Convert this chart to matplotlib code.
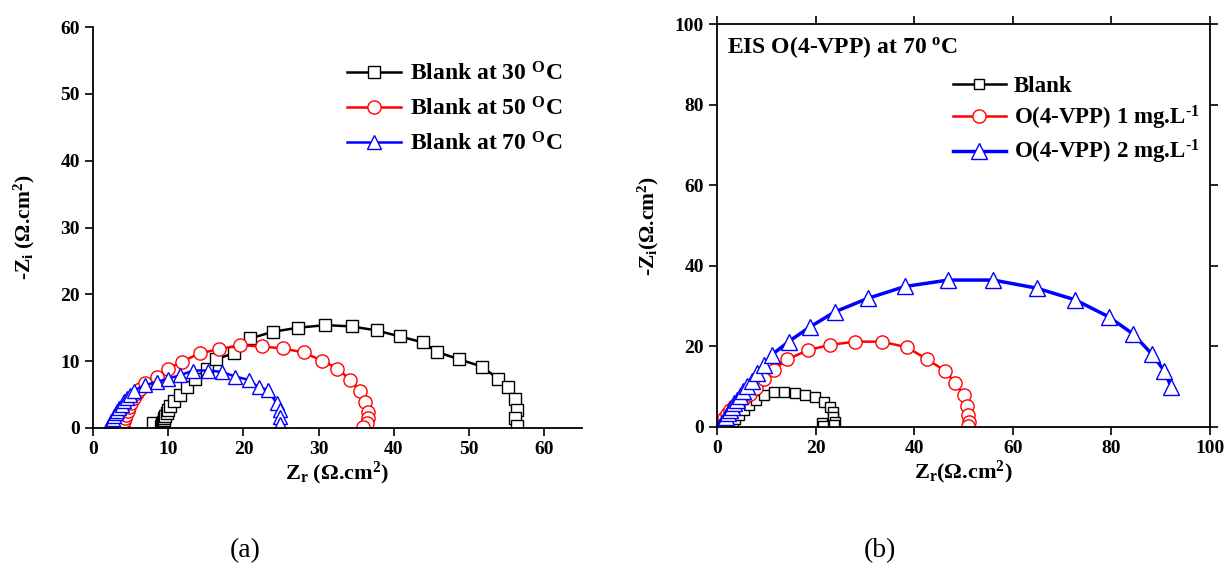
import matplotlib
matplotlib.use("Agg")
import matplotlib.pyplot as plt

plt.rcParams['font.family'] = ['Liberation Serif', 'DejaVu Serif']
plt.rcParams['font.weight'] = 'bold'
plt.rcParams['mathtext.fontset'] = 'custom'
plt.rcParams['mathtext.rm'] = 'Liberation Serif:bold'
plt.rcParams['mathtext.bf'] = 'Liberation Serif:bold'
plt.rcParams['mathtext.it'] = 'Liberation Serif:bold'

# ---- Panel (a) data ----
b30_zr = [8.0, 9.0, 9.2, 9.3, 9.4, 9.5, 9.6, 9.8, 10.0, 10.3, 10.8, 11.5, 12.5, 13.6, 15.1,
          16.4, 18.7, 20.9, 23.9, 27.2, 30.9, 34.4, 37.7, 40.8, 43.9, 45.7, 48.6, 51.7,
          53.9, 55.2, 56.1, 56.4, 56.1, 56.3]
b30_zi = [0.7, 0.3, 0.6, 0.9, 1.2, 1.5, 1.8, 2.2, 2.7, 3.3, 4.1, 5.0, 6.1, 7.3, 8.9,
          10.3, 11.2, 13.4, 14.4, 15.0, 15.4, 15.2, 14.6, 13.7, 12.8, 11.4, 10.3, 9.2,
          7.3, 6.1, 4.4, 2.7, 1.45, 0.3]

b50_zr = [3.9, 4.0, 4.1, 4.2, 4.4, 4.6, 4.8, 5.1, 5.4, 5.8, 6.3, 6.9, 8.5, 10.0, 11.8,
          14.2, 16.8, 19.5, 22.4, 25.3, 28.0, 30.4, 32.5, 34.2, 35.5, 36.2, 36.5, 36.6,
          36.4, 35.9]
b50_zi = [0.1, 0.5, 1.0, 1.5, 2.0, 2.6, 3.2, 3.8, 4.5, 5.2, 5.9, 6.7, 7.7, 8.9, 9.9,
          11.2, 11.8, 12.4, 12.2, 11.9, 11.3, 10.1, 8.9, 7.2, 5.6, 3.9, 2.4, 1.45,
          0.7, 0.2]

b70_zr = [2.0, 2.2, 2.4, 2.6, 2.8, 3.0, 3.2, 3.5, 3.8, 4.1, 4.5, 4.9, 5.4, 6.9, 8.5,
          10.0, 11.6, 13.3, 15.3, 17.1, 18.9, 20.7, 22.0, 23.3, 24.4, 24.8, 24.9, 24.9]
b70_zi = [0.2, 0.6, 1.0, 1.4, 1.8, 2.2, 2.6, 3.0, 3.5, 4.0, 4.5, 5.0, 5.6, 6.4, 6.9,
          7.4, 7.9, 8.6, 8.6, 8.4, 7.7, 7.2, 6.1, 5.7, 3.7, 2.7, 1.6, 0.6]

labels_a = [r'Blank at 30 $^{\mathrm{O}}$C', r'Blank at 50 $^{\mathrm{O}}$C',
            r'Blank at 70 $^{\mathrm{O}}$C']

# ---- Panel (b) data ----
blank_zr = [2.8, 3.2, 3.7, 4.4, 5.4, 6.4, 7.8, 9.5, 11.5, 13.5, 15.8, 17.8, 19.9, 21.6,
            22.9, 23.6, 23.6, 23.9, 23.8, 21.2, 21.4]
blank_zi = [0.5, 1.2, 2.1, 3.0, 4.2, 5.5, 6.7, 8.0, 8.7, 8.7, 8.4, 7.95, 7.4, 6.3,
            5.05, 3.8, 2.6, 1.3, 0.4, 0.9, 0.3]

c1_zr = [0.3, 0.8, 1.4, 2.0, 2.7, 3.5, 4.4, 5.4, 6.6, 7.9, 9.6, 11.5, 14.2, 18.5, 22.9,
         28.0, 33.4, 38.5, 42.5, 46.2, 48.3, 50.0, 50.6, 50.8, 51.2, 51.0]
c1_zi = [0.3, 1.2, 2.2, 3.2, 4.2, 5.2, 6.2, 7.2, 8.2, 9.6, 11.9, 14.2, 16.8, 19.1, 20.4,
         21.2, 21.2, 19.8, 16.9, 14.0, 10.9, 7.95, 5.3, 3.0, 1.3, 0.25]

c2_zr = [0.6, 1.0, 1.4, 1.8, 2.2, 2.6, 3.0, 3.5, 4.0, 4.6, 5.3, 6.1, 7.0, 8.2, 9.5, 11.1,
         14.5, 18.9, 23.9, 30.7, 38.1, 46.9, 56.0, 64.8, 72.6, 79.4, 84.4, 88.2, 90.7, 92.1]
c2_zi = [0.2, 1.0, 1.8, 2.6, 3.4, 4.2, 5.0, 5.9, 6.8, 7.8, 8.9, 10.1, 11.5, 13.3, 15.3,
         17.9, 21.2, 24.9, 28.6, 32.0, 34.9, 36.5, 36.5, 34.5, 31.6, 27.4, 23.1, 18.1,
         14.0, 10.0]

labels_b = ['Blank', 'O(4-VPP) 1 mg.L$^{\u2010\\mathrm{1}}$', 'O(4-VPP) 2 mg.L$^{\u2010\\mathrm{1}}$']

fig = plt.figure(figsize=(12.27, 5.63), dpi=100)

axa = fig.add_axes([0.0758, 0.2398, 0.3985, 0.712])
axb = fig.add_axes([0.5844, 0.2416, 0.4018, 0.715])

lw = 1.8
axa.plot(b30_zr, b30_zi, '-s', color='black', lw=lw, ms=8, mfc='white', mec='black', mew=1.0,
         label=labels_a[0])
axa.plot(b50_zr, b50_zi, '-o', color='red', lw=lw, ms=9.5, mfc='white', mec='red', mew=1.0,
         label=labels_a[1])
axa.plot(b70_zr, b70_zi, '-^', color='blue', lw=lw, ms=10, mfc='white', mec='blue', mew=1.0,
         label=labels_a[2])

axa.set_xlim(0, 65)
axa.set_ylim(0, 60)
axa.set_xticks(range(0, 61, 10))
axa.set_yticks(range(0, 61, 10))
axa.spines['top'].set_visible(False)
axa.spines['right'].set_visible(False)
for s in ['left', 'bottom']:
    axa.spines[s].set_linewidth(1.3)
axa.tick_params(direction='out', length=6, width=1.2, labelsize=14)
axa.set_xlabel(r'Z$_\mathrm{r}$ ($\Omega$.cm$^2$)', fontsize=16, fontweight='bold', labelpad=1)
axa.set_ylabel(r'-Z$_\mathrm{i}$ ($\Omega$.cm$^2$)', fontsize=15.5, fontweight='bold', labelpad=17)
axa.legend(loc='upper left', bbox_to_anchor=(0.5, 0.937), frameon=False, fontsize=17,
           handlelength=2.3, handletextpad=0.35, labelspacing=0.5, borderaxespad=0)

axb.plot(blank_zr, blank_zi, '-s', color='black', lw=lw, ms=7.5, mfc='white', mec='black', mew=1.0,
         label=labels_b[0])
axb.plot(c1_zr, c1_zi, '-o', color='red', lw=lw, ms=9.5, mfc='white', mec='red', mew=1.0,
         label=labels_b[1])
axb.plot(c2_zr, c2_zi, '-^', color='blue', lw=lw + 0.7, ms=11, mfc='white', mec='blue', mew=1.0,
         label=labels_b[2])

axb.set_xlim(0, 100)
axb.set_ylim(0, 100)
axb.set_xticks(range(0, 101, 20))
axb.set_yticks(range(0, 101, 20))
for s in axb.spines.values():
    s.set_linewidth(1.3)
axb.tick_params(direction='out', length=6, width=1.2, labelsize=14,
                top=True, right=True, labeltop=False, labelright=False)
axb.set_xlabel(r'Z$_\mathrm{r}$($\Omega$.cm$^2$)', fontsize=16, fontweight='bold', labelpad=1)
axb.set_ylabel(r'-Z$_\mathrm{i}$($\Omega$.cm$^2$)', fontsize=15.5, fontweight='bold', labelpad=10)
axb.text(0.02, 0.975, r'EIS O(4-VPP) at 70 $^{\mathrm{o}}$C', transform=axb.transAxes,
         fontsize=17, fontweight='bold', va='top', ha='left')
axb.legend(loc='upper left', bbox_to_anchor=(0.46, 0.895), frameon=False, fontsize=16.5,
           handlelength=2.3, handletextpad=0.35, labelspacing=0.28, borderaxespad=0)

fig.text(245 / 1227, 1 - 551 / 563, '(a)', fontsize=20, fontweight='normal',
         ha='center', va='center')
fig.text(880 / 1227, 1 - 551 / 563, '(b)', fontsize=20, fontweight='normal',
         ha='center', va='center')

fig.savefig('out.png', dpi=100)
